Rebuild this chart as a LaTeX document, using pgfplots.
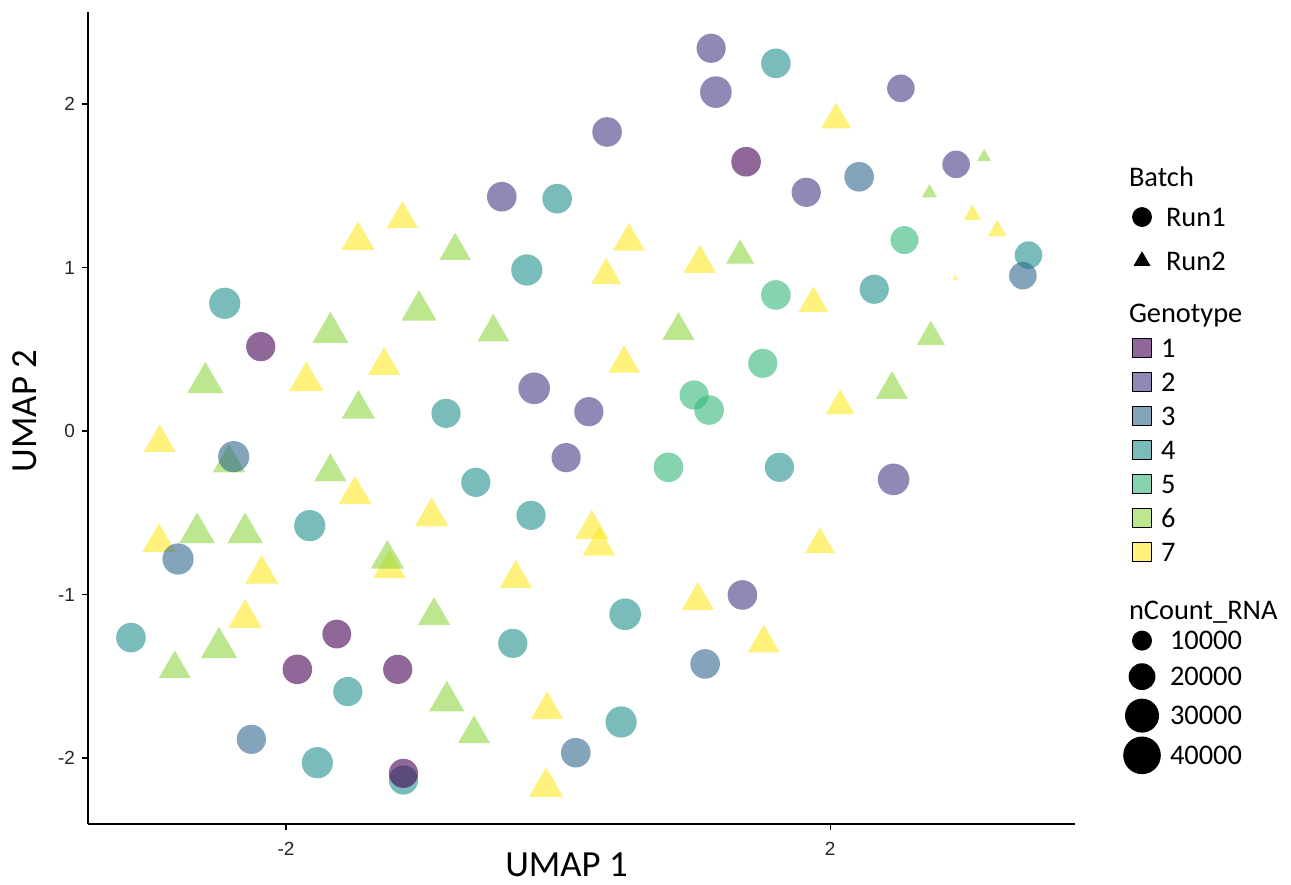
\documentclass[border=0pt]{standalone}
\usepackage{pgfplots}
\usepackage{pgfplotstable}
\pgfplotsset{compat=1.18}
\usepackage{fontspec}
\setmainfont{Carlito}
\newfontfamily\arialf{Liberation Sans}
\definecolor{G1}{HTML}{440154}
\definecolor{G2}{HTML}{443A83}
\definecolor{G3}{HTML}{31688E}
\definecolor{G4}{HTML}{21908C}
\definecolor{G5}{HTML}{35B779}
\definecolor{G6}{HTML}{8FD744}
\definecolor{G7}{HTML}{FDE725}
\definecolor{tickgray}{HTML}{262626}

% Run1 (circles), one table per genotype; s = mark size in pt
\pgfplotstableread{
x y s
-2.186 0.516 7.3
1.382 1.647 7.4
-1.627 -1.242 7.2
-1.917 -1.458 7.4
-1.179 -1.458 7.3
-1.137 -2.094 7.3
}\tGone
\pgfplotstableread{
x y s
1.125 2.341 7.3
1.160 2.073 7.9
0.360 1.829 7.4
-0.414 1.433 7.4
1.824 1.460 7.3
2.520 2.096 6.9
2.926 1.631 6.9
-0.176 0.261 7.9
0.226 0.118 7.3
0.059 -0.163 7.3
2.466 -0.296 7.9
1.355 -1.003 7.4
}\tGtwo
\pgfplotstableread{
x y s
-2.385 -0.157 7.8
-2.794 -0.783 7.8
2.213 1.555 7.4
3.417 0.950 6.9
1.081 -1.425 7.4
-2.255 -1.886 7.3
0.130 -1.968 7.4
}\tGthree
\pgfplotstableread{
x y s
-2.451 0.781 7.8
1.601 2.249 7.4
-0.007 1.421 7.4
-0.230 0.985 7.8
3.458 1.076 6.9
2.324 0.867 7.3
-0.824 0.108 7.3
-0.605 -0.314 7.3
-1.826 -0.579 7.8
-0.199 -0.516 7.3
1.627 -0.222 7.3
0.493 -1.121 7.9
-0.333 -1.299 7.3
-3.140 -1.264 7.4
-1.546 -1.594 7.3
0.463 -1.780 7.8
-1.770 -2.029 7.8
-1.137 -2.135 7.3
}\tGfour
\pgfplotstableread{
x y s
2.546 1.168 7.0
1.601 0.832 7.4
1.505 0.414 7.3
1.000 0.220 7.3
1.110 0.128 7.4
0.811 -0.222 7.4
}\tGfive
% Run2 (triangles)
\pgfplotstableread{
x y s
-0.757 1.102 9.1
-1.022 0.737 10.2
-1.674 0.602 10.4
-0.476 0.604 9.25
-2.593 0.296 10.4
-1.468 0.134 9.6
-2.420 -0.196 9.4
-1.674 -0.251 9.4
-2.654 -0.623 10.2
-2.301 -0.623 10.2
-1.255 -0.783 9.6
-0.912 -1.129 9.25
-2.493 -1.325 10.4
-2.818 -1.455 9.25
-0.818 -1.652 10.2
-0.618 -1.853 9.25
0.885 0.614 9.25
1.338 1.073 8.1
2.454 0.253 9.25
2.740 0.576 8.1
2.730 1.456 4.4
3.132 1.676 4.0
}\tGsix
\pgfplotstableread{
x y s
2.044 1.904 8.6
-1.145 1.296 9.1
-1.471 1.165 9.7
0.520 1.160 9.2
0.353 0.952 8.7
1.042 1.024 9.4
1.877 0.780 8.6
-1.279 0.400 9.25
-1.851 0.304 9.9
0.485 0.413 9.1
-2.929 -0.073 9.25
2.074 0.154 8.25
-1.493 -0.389 9.5
-0.929 -0.524 9.7
0.248 -0.601 9.7
0.301 -0.705 9.5
-2.934 -0.681 9.6
-1.240 -0.842 9.4
-2.179 -0.875 9.6
1.925 -0.694 8.6
-0.311 -0.903 9.4
1.027 -1.037 9.25
-2.301 -1.146 9.7
1.512 -1.298 9.25
-0.081 -1.706 9.25
-0.088 -2.178 9.9
3.046 1.322 5.1
3.228 1.224 5.6
2.919 0.936 1.6
}\tGseven

\pgfplotsset{
  pts/.style n args={2}{scatter, only marks, mark=#1, forget plot,
    point meta=explicit,
    visualization depends on={\thisrow{s}\as\ms},
    scatter/use mapped color={draw opacity=0, fill=#2, fill opacity=0.6},
    scatter/@pre marker code/.append style={/tikz/mark size=\ms pt}},
  legkey/.style={legend image code/.code={%
    \path[draw=none,fill=none] (-10pt,0pt) (9.5pt,0pt);%
    \draw[only marks,#1] plot coordinates {(0pt,0pt)};}},
}

\begin{document}
\begin{tikzpicture}
\begin{axis}[
  name=main,
  scale only axis, width=493.5pt, height=406pt,
  xmin=-3.456, xmax=3.80, ymin=-2.404, ymax=2.563,
  axis lines=left, axis line style={-, line width=0.6pt, black},
  xtick={-2,2}, xticklabels={-2,2},
  ytick={-2,-1,0,1,2}, yticklabels={-2,-1,0,1,2},
  tick align=outside, major tick length=3pt,
  tick style={line width=0.6pt, black},
  ticklabel style={font=\fontsize{9.5}{11}\selectfont\arialf, text=tickgray},
  xticklabel style={yshift=-2.5pt},
  xlabel={UMAP 1}, ylabel={UMAP 2},
  label style={font=\fontsize{18.4}{22}\selectfont},
  xlabel style={at={(axis description cs:0.4848,-0.0505)}, anchor=center},
  ylabel style={at={(axis description cs:-0.0643,0.5086)}, anchor=center},
  legend cell align=left,
  legend style={at={(1.04762,0.8337)}, anchor=north west, draw=none, fill=none,
    inner sep=0pt, outer sep=0pt, row sep=0pt, column sep=0pt,
    nodes={inner sep=0pt},
    font=\fontsize{14.2}{16}\selectfont},
]
\addplot[pts={triangle*}{G7}] table[x=x,y=y,meta=s] {\tGseven};
\addplot[pts={triangle*}{G6}] table[x=x,y=y,meta=s] {\tGsix};
\addplot[pts={*}{G5}] table[x=x,y=y,meta=s] {\tGfive};
\addplot[pts={*}{G4}] table[x=x,y=y,meta=s] {\tGfour};
\addplot[pts={*}{G3}] table[x=x,y=y,meta=s] {\tGthree};
\addplot[pts={*}{G2}] table[x=x,y=y,meta=s] {\tGtwo};
\addplot[pts={*}{G1}] table[x=x,y=y,meta=s] {\tGone};

% legend: Batch
\addlegendimage{empty legend}
\addlegendentry[text height=19.5pt, text depth=10.5pt]{\hspace*{-16pt}Batch}
\addlegendimage{legkey={mark=*, mark size=4.75pt, black}}
\addlegendentry[text height=9.5pt, text depth=0.5pt]{\hspace*{2.5pt}Run1}
\addlegendimage{legkey={mark=triangle*, mark size=4.5pt, black}}
\addlegendentry[text height=21.5pt, text depth=12.5pt]{\hspace*{2.5pt}Run2}
% Genotype
\addlegendimage{empty legend}
\addlegendentry[text height=13.5pt, text depth=4.5pt]{\hspace*{-16pt}Genotype}
\addlegendimage{legkey={mark=square*, mark size=4.7pt, mark options={fill=G1, fill opacity=0.6, draw=black, line width=0.65pt}}}
\addlegendentry[text height=13pt, text depth=4pt]{1}
\addlegendimage{legkey={mark=square*, mark size=4.7pt, mark options={fill=G2, fill opacity=0.6, draw=black, line width=0.65pt}}}
\addlegendentry[text height=13pt, text depth=4pt]{2}
\addlegendimage{legkey={mark=square*, mark size=4.7pt, mark options={fill=G3, fill opacity=0.6, draw=black, line width=0.65pt}}}
\addlegendentry[text height=13pt, text depth=4pt]{3}
\addlegendimage{legkey={mark=square*, mark size=4.7pt, mark options={fill=G4, fill opacity=0.6, draw=black, line width=0.65pt}}}
\addlegendentry[text height=13pt, text depth=4pt]{4}
\addlegendimage{legkey={mark=square*, mark size=4.7pt, mark options={fill=G5, fill opacity=0.6, draw=black, line width=0.65pt}}}
\addlegendentry[text height=13pt, text depth=4pt]{5}
\addlegendimage{legkey={mark=square*, mark size=4.7pt, mark options={fill=G6, fill opacity=0.6, draw=black, line width=0.65pt}}}
\addlegendentry[text height=13pt, text depth=4pt]{6}
\addlegendimage{legkey={mark=square*, mark size=4.7pt, mark options={fill=G7, fill opacity=0.6, draw=black, line width=0.65pt}}}
\addlegendentry[text height=13pt, text depth=4pt]{7}
% spacer
\addlegendimage{empty legend}
\addlegendentry[text height=12.8pt, text depth=0pt]{}
% nCount_RNA
\addlegendimage{empty legend}
\addlegendentry[text height=12.5pt, text depth=3.5pt]{\hspace*{-16pt}nCount\_RNA}
\addlegendimage{legkey={mark=*, mark size=5pt, black, draw opacity=0}}
\addlegendentry[text height=11.5pt, text depth=2.5pt]{\hspace*{4.5pt}10000}
\addlegendimage{legkey={mark=*, mark size=6.7pt, black, draw opacity=0}}
\addlegendentry[text height=15.5pt, text depth=6.5pt]{\hspace*{4.5pt}20000}
\addlegendimage{legkey={mark=*, mark size=8.5pt, black, draw opacity=0}}
\addlegendentry[text height=13pt, text depth=4pt]{\hspace*{4.5pt}30000}
\addlegendimage{legkey={mark=*, mark size=9.4pt, black, draw opacity=0}}
\addlegendentry[text height=15.85pt, text depth=6.85pt]{\hspace*{4.5pt}40000}
\end{axis}
\pgfresetboundingbox
\path (-44pt,-30pt) rectangle (601.5pt,412pt);
\end{tikzpicture}
\end{document}
